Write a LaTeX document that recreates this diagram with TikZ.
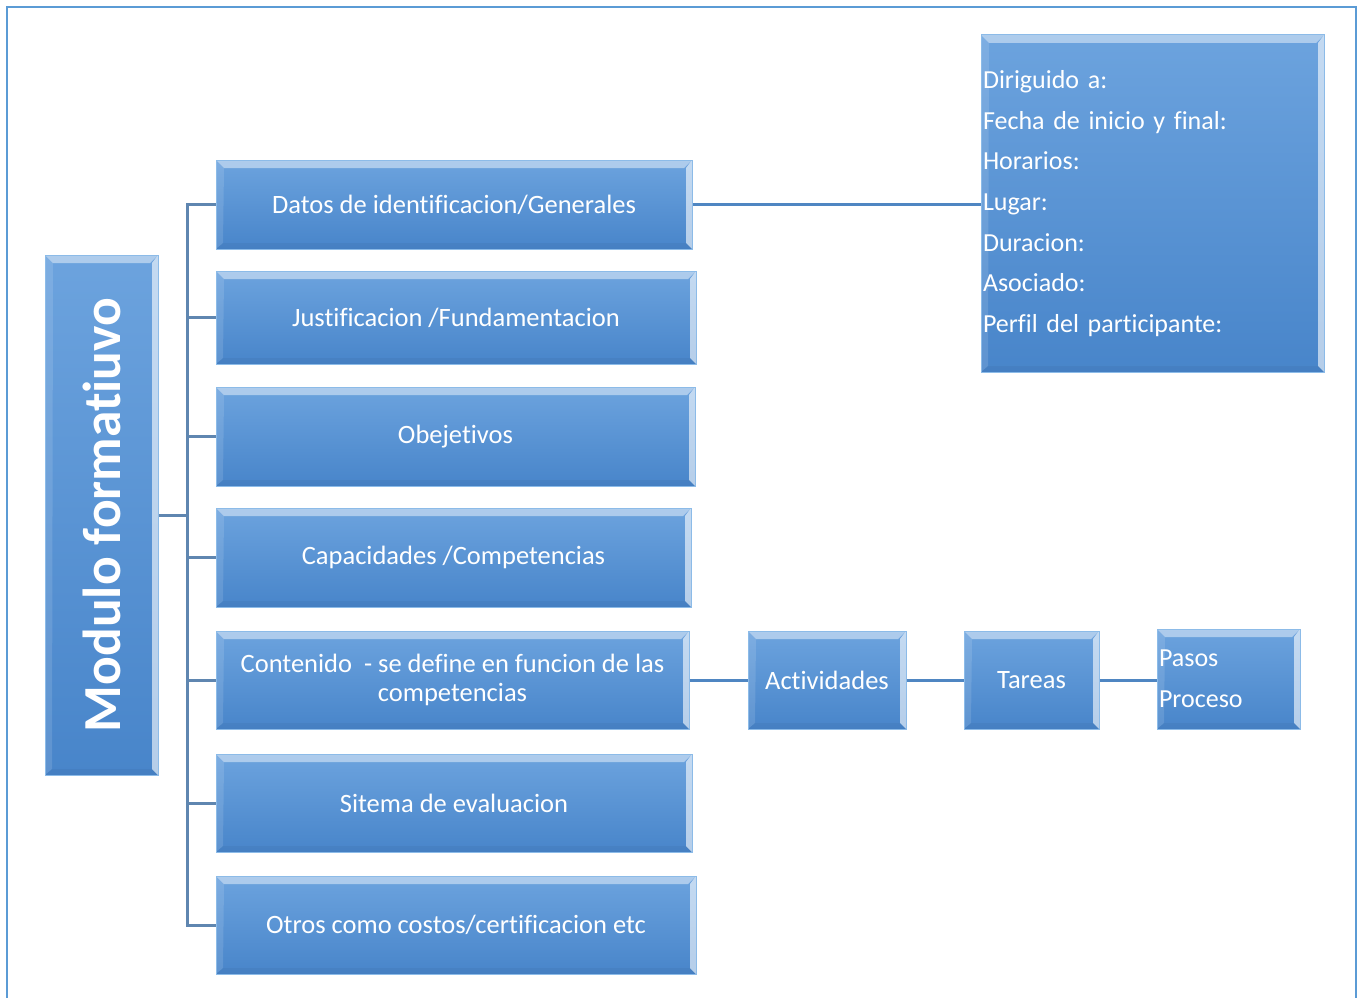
\documentclass[tikz,border=0pt]{standalone}
\usepackage{fontspec}
\setmainfont{Carlito}[Ligatures=NoCommon]
\begin{document}
\begin{tikzpicture}[x=1pt,y=-1pt,
  box/.style={draw=boxedge,line width=1pt,top color=boxtop,bottom color=boxbot,
    text=white,font=\fontsize{26.5}{29}\selectfont,inner sep=2pt,align=center,
    path picture={
      \fill[white,opacity=0.45] (path picture bounding box.north west) -- (path picture bounding box.north east)
        -- ([shift={(-8,8)}]path picture bounding box.north east) -- ([shift={(8,8)}]path picture bounding box.north west) -- cycle;
      \fill[white,opacity=0.6] (path picture bounding box.north east) -- (path picture bounding box.south east)
        -- ([shift={(-6,-6)}]path picture bounding box.south east) -- ([shift={(-6,8)}]path picture bounding box.north east) -- cycle;
      \fill[white,opacity=0.12] (path picture bounding box.north west) -- (path picture bounding box.south west)
        -- ([shift={(7,-6)}]path picture bounding box.south west) -- ([shift={(8,8)}]path picture bounding box.north west) -- cycle;
      \fill[black,opacity=0.04] (path picture bounding box.south west) -- (path picture bounding box.south east)
        -- ([shift={(-6,-6)}]path picture bounding box.south east) -- ([shift={(7,-6)}]path picture bounding box.south west) -- cycle;
    }},
  trunk/.style={draw=trunkcol,line width=3pt},
  link/.style={draw=linkcol,line width=3pt}]
\definecolor{boxtop}{HTML}{6CA3DE}
\definecolor{boxbot}{HTML}{4885CA}
\definecolor{boxedge}{HTML}{8CBBE8}
\definecolor{trunkcol}{HTML}{5F86B0}
\definecolor{linkcol}{HTML}{4F86C2}
\definecolor{framecol}{HTML}{5B9BD5}
\useasboundingbox (0,0) rectangle (1362,998);
\draw[framecol,line width=2.5pt] (7,1010) -- (7,7) -- (1356,7) -- (1356,1010);

\node[box,minimum width=113pt,minimum height=520pt] (main) at (101.5,515) {};
\node[rotate=90,text=white,font=\fontsize{53.5}{60}\selectfont\bfseries] (maint) at (main.center) {Modulo formatiuvo};

\node[box,minimum width=476pt,minimum height=89pt] (datos) at (454,204.5) {Datos de identificacion/Generales};
\node[box,minimum width=480pt,minimum height=93pt] (just) at (456,317.5) {Justificacion /Fundamentacion};
\node[box,minimum width=479pt,minimum height=99pt] (obj) at (455.5,436.5) {Obejetivos};
\node[box,minimum width=475pt,minimum height=99pt] (cap) at (453.5,557.5) {Capacidades /Competencias};
\node[box,minimum width=473pt,minimum height=98pt] (cont) at (452.5,680) {Contenido\ \ - se define en funcion de las\\competencias};
\node[box,minimum width=476pt,minimum height=98pt] (sis) at (454,803) {Sitema de evaluacion};
\node[box,minimum width=480pt,minimum height=98pt] (otros) at (456,925) {Otros como costos/certificacion etc};

\node[box,minimum width=343pt,minimum height=337pt,text width=339pt,align=left,
  font=\fontsize{26}{40.7}\selectfont] (info) at (1152.5,203.5)
  {Diriguido a:\\Fecha de inicio y final:\\Horarios:\\Lugar:\\Duracion:\\Asociado:\\Perfil del participante:};

\node[box,minimum width=158pt,minimum height=98pt] (act) at (827,680) {Actividades};
\node[box,minimum width=135pt,minimum height=98pt] (tar) at (1031.5,680) {Tareas};
\node[box,minimum width=143pt,minimum height=100pt,text width=139pt,align=left,
  font=\fontsize{26}{41}\selectfont] (pasos) at (1228.5,679) {Pasos\\Proceso};

\coordinate (tj) at (187,515);
\draw[trunk] (main.east |- tj) -- (tj);
\draw[trunk] (datos.west) -| (tj) |- (otros.west);
\foreach \n in {just,obj,cap,cont,sis}{
  \draw[trunk] (tj |- \n.west) -- (\n.west);
}
\draw[link] (datos.east) -- (info.west |- datos.east);
\draw[link] (cont.east) -- (act.west);
\draw[link] (act.east) -- (tar.west);
\draw[link] (tar.east) -- (pasos.west |- tar.east);
\end{tikzpicture}
\end{document}
